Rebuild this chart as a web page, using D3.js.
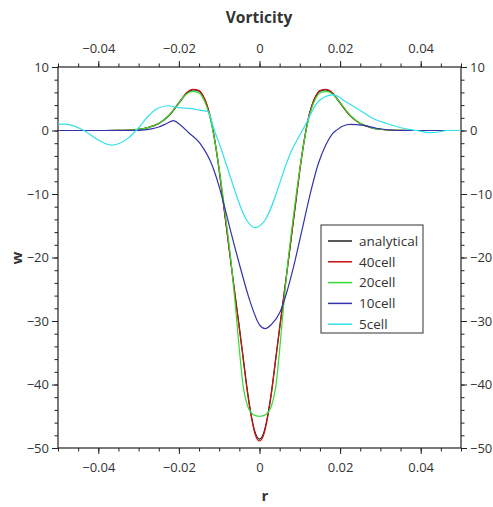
<!DOCTYPE html>
<html><head><meta charset="utf-8">
<script src="https://cdn.jsdelivr.net/npm/d3@7"></script>
<style>
body{margin:0;background:#fff;}
text{font-family:"Open Sans",sans-serif;fill:#333;}
</style></head>
<body><svg id="c" width="493" height="507"></svg>
<script>
const rFine = [-0.05,-0.04,-0.035,-0.03,-0.0275,-0.025,-0.0225,-0.02,-0.018,-0.0165,-0.015,-0.014,-0.013,-0.012,-0.011,-0.01,-0.009,-0.008,-0.007,-0.006,-0.005,-0.004,-0.003,-0.002,-0.001,0,0.001,0.002,0.003,0.004,0.005,0.006,0.007,0.008,0.009,0.01,0.011,0.012,0.013,0.014,0.015,0.0165,0.018,0.02,0.0225,0.025,0.0275,0.03,0.035,0.04,0.05];
const analytical = [0,0,0.03,0.2,0.5,1.1,2.3,4.3,5.9,6.4,6.2,5.4,3.9,1.5,-2,-6.3,-11.3,-16.3,-21.3,-26.2,-31,-36,-41,-45,-47.7,-48.6,-47.7,-45,-41,-36,-31,-26.2,-21.3,-16.3,-11.3,-6.3,-2,1.5,3.9,5.4,6.2,6.4,5.9,4.3,2.3,1.1,0.5,0.2,0.03,0,0];
const cell40 = [0,0,0.03,0.2,0.5,1.1,2.35,4.4,6.0,6.5,6.3,5.5,4.0,1.6,-1.9,-6.2,-11.2,-16.2,-21.3,-26.3,-31.2,-36.2,-41.2,-45.2,-48,-48.9,-48,-45.2,-41.2,-36.2,-31.2,-26.3,-21.3,-16.2,-11.2,-6.2,-1.9,1.6,4.0,5.5,6.3,6.5,6.0,4.4,2.35,1.1,0.5,0.2,0.03,0,0];
const cell20 = [0,0,0.03,0.2,0.5,1.15,2.4,4.4,5.8,6.15,5.9,5.1,3.6,1.3,-2,-6,-10.6,-15.6,-21,-27.5,-34.5,-40.5,-43.3,-44.5,-44.9,-45,-44.9,-44.5,-43.3,-40.5,-34.5,-27.5,-21,-15.6,-10.6,-6,-2,1.3,3.6,5.1,5.9,6.15,5.8,4.4,2.4,1.15,0.5,0.2,0.03,0,0];
const r10 = [-0.05,-0.04,-0.035,-0.031,-0.0285,-0.0268,-0.025,-0.023,-0.0214,-0.0197,-0.0175,-0.0148,-0.0115,-0.0098,-0.0086,-0.0073,-0.0048,-0.0024,0,0.0014,0.003,0.0051,0.0068,0.0084,0.0105,0.0125,0.0145,0.0165,0.018,0.0192,0.0216,0.0225,0.0258,0.029,0.0324,0.036,0.04,0.05];
const cell10 = [0,0,0,0,0.1,0.25,0.55,1.1,1.55,0.9,-0.4,-2.0,-5.9,-9.3,-12.2,-15.5,-21.5,-26.8,-30.6,-31.2,-30.5,-28.6,-25.4,-21.6,-15.8,-10.2,-5.4,-2.2,-0.6,0.1,0.9,0.97,0.8,0.35,0.08,0,0,0];
const r5 = [-0.05,-0.0484,-0.0438,-0.04,-0.0368,-0.0326,-0.0301,-0.0277,-0.0252,-0.0227,-0.0202,-0.0169,-0.0148,-0.0127,-0.0115,-0.0094,-0.0073,-0.0032,-0.0011,0.0009,0.008,0.012,0.013,0.015,0.0183,0.0215,0.0249,0.0282,0.0316,0.0357,0.039,0.0423,0.0448,0.0464,0.05];
const cell5 = [0.97,1.0,0.08,-1.5,-2.3,-1.2,0.35,2.2,3.5,3.9,3.6,3.45,3.2,3.0,0.6,-3.1,-7.2,-14.1,-15.3,-14.5,-3.1,1.65,3.0,4.8,5.6,4.5,3.2,1.9,1.1,0.35,0,-0.35,-0.2,0,0];
const seriesNames = ["analytical","40cell","20cell","10cell","5cell"];
const seriesColors = ["#222222","#cc1111","#33dd33","#3333aa","#33e0e8"];
const xTickLabels = [-0.04,-0.02,0,0.02,0.04];
const yTickLabels = [10,0,-10,-20,-30,-40,-50];

const series = [
  {name:seriesNames[0], r:rFine, w:analytical},
  {name:seriesNames[1], r:rFine, w:cell40},
  {name:seriesNames[2], r:rFine, w:cell20},
  {name:seriesNames[3], r:r10, w:cell10},
  {name:seriesNames[4], r:r5, w:cell5}
];

const svg = d3.select("#c");
const L=58, R=461, T=67, B=448;
const x = d3.scaleLinear().domain([-0.05,0.05]).range([L,R]);
const y = d3.scaleLinear().domain([-50,10]).range([B,T]);
const fmtX = d => d===0 ? "0" : d3.format(".2f")(d).replace("-","\u2212");
const fmtY = d => String(d).replace("-","\u2212");

const xMinor = d3.range(-0.05,0.0501,0.005).map(v=>+v.toFixed(3));
const yMinor = d3.range(-50,10.1,2);

function styleAxis(g){
  g.select(".domain").remove();
  g.selectAll("line").attr("stroke","#222");
  g.selectAll("text").style("font-size","13px").attr("fill","#333");
}
svg.append("g").attr("transform",`translate(0,${B})`).call(d3.axisBottom(x).tickValues(xMinor).tickSize(3.5).tickFormat("")).call(styleAxis);
svg.append("g").attr("transform",`translate(0,${T})`).call(d3.axisTop(x).tickValues(xMinor).tickSize(3.5).tickFormat("")).call(styleAxis);
svg.append("g").attr("transform",`translate(${L},0)`).call(d3.axisLeft(y).tickValues(yMinor).tickSize(3.5).tickFormat("")).call(styleAxis);
svg.append("g").attr("transform",`translate(${R},0)`).call(d3.axisRight(y).tickValues(yMinor).tickSize(3.5).tickFormat("")).call(styleAxis);
svg.append("g").attr("transform",`translate(0,${B})`).call(d3.axisBottom(x).tickValues(xTickLabels).tickSize(6).tickPadding(9).tickFormat(fmtX)).call(styleAxis);
svg.append("g").attr("transform",`translate(0,${T})`).call(d3.axisTop(x).tickValues(xTickLabels).tickSize(6).tickPadding(8).tickFormat(fmtX)).call(styleAxis);
svg.append("g").attr("transform",`translate(${L},0)`).call(d3.axisLeft(y).tickValues(yTickLabels).tickSize(6).tickPadding(3).tickFormat(fmtY)).call(styleAxis);
svg.append("g").attr("transform",`translate(${R},0)`).call(d3.axisRight(y).tickValues(yTickLabels).tickSize(6).tickPadding(3).tickFormat(fmtY)).call(styleAxis);

svg.append("rect").attr("x",L).attr("y",T).attr("width",R-L).attr("height",B-T)
  .attr("fill","none").attr("stroke","#222").attr("stroke-width",1.2);

svg.append("clipPath").attr("id","pc").append("rect").attr("x",L).attr("y",T).attr("width",R-L).attr("height",B-T);
const line = d3.line().x(d=>x(d[0])).y(d=>y(d[1])).curve(d3.curveMonotoneX);
const pg = svg.append("g").attr("clip-path","url(#pc)");
series.forEach((s,i)=>{
  pg.append("path").datum(s.r.map((rv,k)=>[rv,s.w[k]]))
    .attr("d",line).attr("fill","none").attr("stroke",seriesColors[i]).attr("stroke-width",1.2);
});

svg.append("text").attr("x",259).attr("y",23).attr("text-anchor","middle")
  .style("font-size","15.5px").style("font-weight","bold").text("Vorticity");
svg.append("text").attr("x",265).attr("y",501).attr("text-anchor","middle")
  .style("font-size","15px").style("font-weight","bold").text("r");
svg.append("text").attr("transform","translate(22,258) rotate(-90)").attr("text-anchor","middle")
  .style("font-size","15px").style("font-weight","bold").text("w");

const lg = svg.append("g");
lg.append("rect").attr("x",321).attr("y",225).attr("width",102).attr("height",108)
  .attr("fill","#fff").attr("stroke","#333").attr("stroke-width",1);
seriesNames.forEach((n,i)=>{
  const yy = 241 + i*20.8;
  lg.append("line").attr("x1",328).attr("x2",352).attr("y1",yy).attr("y2",yy)
    .attr("stroke",seriesColors[i]).attr("stroke-width",1.5);
  lg.append("text").attr("x",359).attr("y",yy).attr("dy","0.35em")
    .style("font-size","13.5px").text(n);
});
</script></body></html>
